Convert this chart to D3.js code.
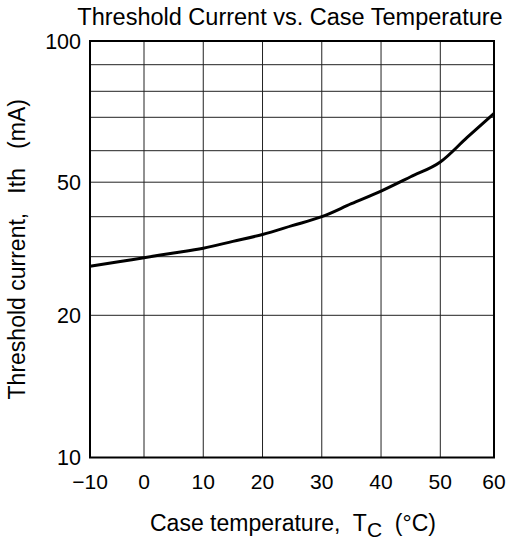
<!DOCTYPE html>
<html>
<head>
<meta charset="utf-8">
<script src="https://cdn.jsdelivr.net/npm/d3@7"></script>
<style>
  body { margin: 0; background: #fff; }
  svg { display: block; font-family: "Liberation Sans", Arial, sans-serif; }
</style>
</head>
<body>
<svg width="513" height="544"></svg>
<script>
// case temperature (°C) and threshold current (mA)
var temps    = [-10, -5,   0,    5,    10,   15,   20,   25,   30, 35,   40,   45,   50,   55,   60];
var currents = [28.1, 28.9, 29.8, 30.8, 31.9, 33.5, 35.2, 37.5, 40, 43.5, 47.2, 51.6, 56.2, 63.8, 71.4];

var xTicks = [-10, 0, 10, 20, 30, 40, 50, 60];
var yGrid = [10, 20, 30, 40, 50, 60, 70, 80, 90, 100];
var yTickLabels = [10, 20, 50, 100];

var svg = d3.select("svg");
var plotLeft = 90, plotTop = 41, plotW = 404, plotH = 416.5;

// the printed grid is not a perfect log grid, so map each line to where it sits
var x = d3.scaleLinear()
    .domain([-10, 0, 50, 60])
    .range([plotLeft, plotLeft + 54, plotLeft + 350.3, plotLeft + plotW]);

var y = d3.scaleLog()
    .domain(yGrid)
    .range([416.5, 274.3, 215.7, 175.7, 141.2, 109.7, 76.3, 50.3, 23.7, 0].map(function (d) { return plotTop + d; }));

// grid
svg.append("g").selectAll("line")
    .data(xTicks.slice(1, -1))
    .enter().append("line")
    .attr("x1", function (d) { return x(d); })
    .attr("x2", function (d) { return x(d); })
    .attr("y1", plotTop)
    .attr("y2", plotTop + plotH)
    .attr("stroke", "#222")
    .attr("stroke-width", 1);

svg.append("g").selectAll("line")
    .data(yGrid.slice(1, -1))
    .enter().append("line")
    .attr("x1", plotLeft)
    .attr("x2", plotLeft + plotW)
    .attr("y1", function (d) { return y(d); })
    .attr("y2", function (d) { return y(d); })
    .attr("stroke", "#222")
    .attr("stroke-width", 1);

// frame
svg.append("rect")
    .attr("x", plotLeft)
    .attr("y", plotTop)
    .attr("width", plotW)
    .attr("height", plotH)
    .attr("fill", "none")
    .attr("stroke", "#000")
    .attr("stroke-width", 2);

// curve
var line = d3.line()
    .x(function (d, i) { return x(temps[i]); })
    .y(function (d) { return y(d); })
    .curve(d3.curveMonotoneX);

svg.append("path")
    .datum(currents)
    .attr("d", line)
    .attr("fill", "none")
    .attr("stroke", "#000")
    .attr("stroke-width", 3)
    .attr("stroke-linejoin", "round");

// tick labels
svg.append("g").selectAll("text")
    .data(xTicks)
    .enter().append("text")
    .attr("x", function (d) { return x(d); })
    .attr("y", 489)
    .attr("text-anchor", "middle")
    .attr("font-size", 21)
    .text(function (d) { return d < 0 ? "\u2212" + Math.abs(d) : d; });

svg.append("g").selectAll("text")
    .data(yTickLabels)
    .enter().append("text")
    .attr("x", 81)
    .attr("y", function (d) { return y(d); })
    .attr("dy", "0.36em")
    .attr("text-anchor", "end")
    .attr("font-size", 21.5)
    .text(function (d) { return d; });

// titles
svg.append("text")
    .attr("x", 290)
    .attr("y", 25)
    .attr("text-anchor", "middle")
    .attr("font-size", 23.5)
    .text("Threshold Current vs. Case Temperature");

var xl = svg.append("text")
    .attr("x", 293)
    .attr("y", 531)
    .attr("text-anchor", "middle")
    .attr("font-size", 23)
    .attr("xml:space", "preserve");
xl.append("tspan").text("Case temperature,  T");
xl.append("tspan").attr("dy", 6).attr("font-size", 21).text("C");
xl.append("tspan").attr("dy", -6).text("  (\u00b0C)");

svg.append("text")
    .attr("transform", "translate(25," + (plotTop + plotH / 2) + ") rotate(-90)")
    .attr("text-anchor", "middle")
    .attr("font-size", 23)
    .attr("xml:space", "preserve")
    .text("Threshold current,   Ith   (mA)");
</script>
</body>
</html>
